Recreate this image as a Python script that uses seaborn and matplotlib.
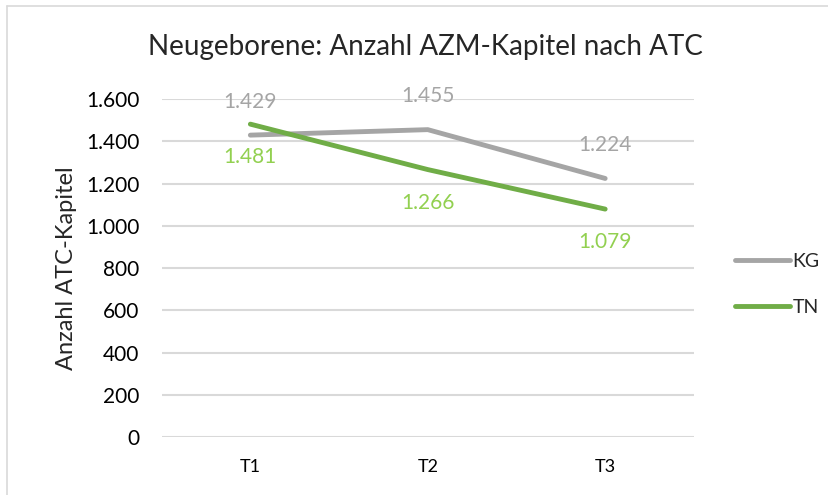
import pandas as pd
import numpy as np
import matplotlib.pyplot as plt
import seaborn as sns
from matplotlib.ticker import FuncFormatter, MultipleLocator
from matplotlib.lines import Line2D

# data
zeitpunkte = ['T1', 'T2', 'T3']
kg_werte = [1429, 1455, 1224]
tn_werte = [1481, 1266, 1079]

df = pd.DataFrame({
    'Zeitpunkt': zeitpunkte * 2,
    'Wert': kg_werte + tn_werte,
    'Gruppe': ['KG'] * 3 + ['TN'] * 3,
})
df['x'] = df['Zeitpunkt'].map({t: i for i, t in enumerate(zeitpunkte)})

sns.set_style('white')
plt.rcParams['font.family'] = ['Lato', 'DejaVu Sans']

line_colors = {'KG': '#A5A5A5', 'TN': '#70AD47'}
label_colors = {'KG': '#A5A5A5', 'TN': '#92D050'}

fig = plt.figure(figsize=(8.29, 4.95), dpi=100)
ax = fig.add_axes([0.195, 0.117, 0.642, 0.683])

sns.lineplot(data=df, x='x', y='Wert', hue='Gruppe', palette=line_colors,
             linewidth=3.5, ax=ax, legend=False, solid_capstyle='round')

# data labels: KG above, TN below
for grp, off in [('KG', 24), ('TN', -24)]:
    sub = df[df['Gruppe'] == grp]
    for xv, yv in zip(sub['x'], sub['Wert']):
        txt = f"{yv:,}".replace(',', '.')
        ax.annotate(txt, (xv, yv), xytext=(0, off), textcoords='offset points',
                    ha='center', va='center', fontsize=15, color=label_colors[grp])

ax.set_xlim(-0.5, 2.5)
ax.set_ylim(0, 1600)
ax.yaxis.set_major_locator(MultipleLocator(200))
ax.yaxis.set_major_formatter(FuncFormatter(lambda v, p: f"{int(v):,}".replace(',', '.')))
ax.set_xticks(range(len(zeitpunkte)))
ax.set_xticklabels(zeitpunkte)
ax.tick_params(axis='y', length=0, labelsize=15, colors='black', pad=16)
ax.tick_params(axis='x', length=0, labelsize=13, colors='black', pad=16)
ax.grid(axis='y', color='#D9D9D9', linewidth=1.5)
ax.set_axisbelow(True)
for s in ax.spines.values():
    s.set_visible(False)

ax.set_xlabel('')
ax.set_ylabel('Anzahl ATC-Kapitel', fontsize=17)
ax.yaxis.set_label_coords(-0.16, 0.5)

# legend on the right
handles = [Line2D([0], [0], color=line_colors[g], linewidth=3.5, solid_capstyle='round') for g in ['KG', 'TN']]
fig.legend(handles, ['KG', 'TN'], loc='center left', bbox_to_anchor=(0.868, 0.425),
           frameon=False, fontsize=14, handlelength=2.8, handletextpad=0.15, labelspacing=1.5,
           borderpad=0.3)

fig.text(0.513, 0.905, 'Neugeborene: Anzahl AZM-Kapitel nach ATC', fontsize=20,
         ha='center', va='center')

# chart border (left and top, as in the screenshot)
fig.add_artist(Line2D([0.008, 0.008], [0, 0.988], color='#D9D9D9', linewidth=1.2, transform=fig.transFigure))
fig.add_artist(Line2D([0.008, 1], [0.988, 0.988], color='#D9D9D9', linewidth=1.2, transform=fig.transFigure))

plt.savefig('out.png', dpi=100)
